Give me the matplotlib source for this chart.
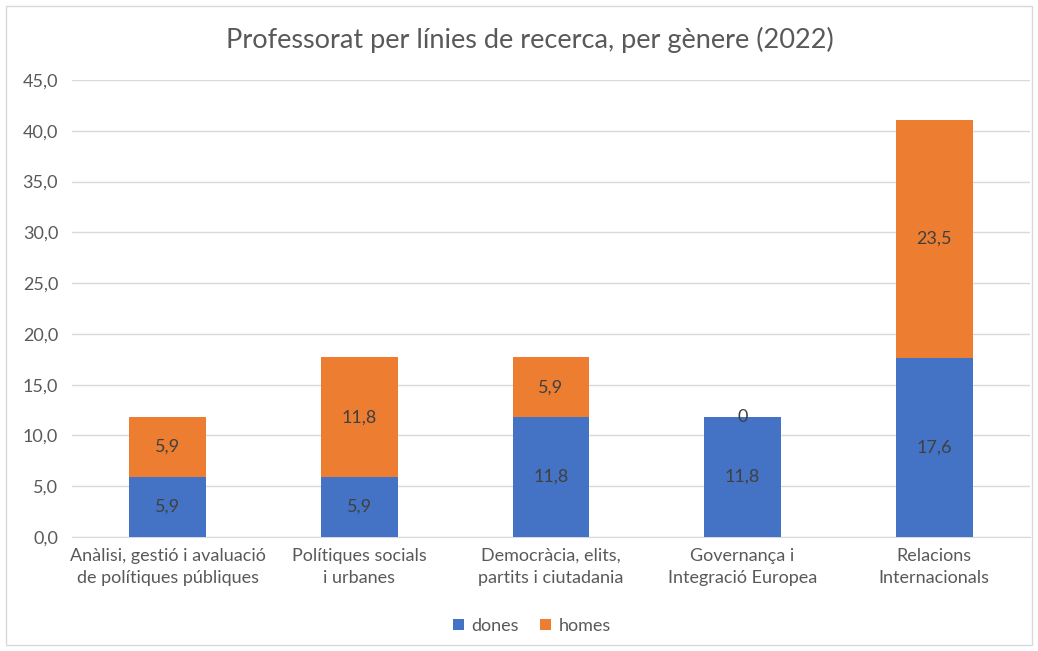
import matplotlib
matplotlib.use("Agg")
import matplotlib.pyplot as plt
from matplotlib.patches import Rectangle
import numpy as np

categories = ["Anàlisi, gestió i avaluació\nde polítiques públiques",
              "Polítiques socials\ni urbanes",
              "Democràcia, elits,\npartits i ciutadania",
              "Governança i\nIntegració Europea",
              "Relacions\nInternacionals"]
dones = [5.9, 5.9, 11.8, 11.8, 17.6]
homes = [5.9, 11.8, 5.9, 0.0, 23.5]
yticks = [0, 5, 10, 15, 20, 25, 30, 35, 40, 45]

plt.rcParams['font.family'] = ['Lato', 'DejaVu Sans']
txt = '#595959'
blue = '#4472C4'
orange = '#ED7D31'

fig = plt.figure(figsize=(10.38, 6.51), dpi=100)
ax = fig.add_axes([72/1038, 1-537/651, (1030-72)/1038, (537-80)/651])

x = np.arange(len(categories))
w = 0.40
b1 = ax.bar(x, dones, w, color=blue, label='dones', zorder=3)
b2 = ax.bar(x, homes, w, bottom=dones, color=orange, label='homes', zorder=3)

def fmt(v):
    if v == 0:
        return "0"
    return f"{v:.1f}".replace('.', ',')

for xi, d, h in zip(x, dones, homes):
    ax.text(xi, d/2, fmt(d), ha='center', va='center', fontsize=13, color='#404040', zorder=4)
    ax.text(xi, d + h/2, fmt(h), ha='center', va='center', fontsize=13, color='#404040', zorder=4)

ax.set_xlim(-0.5, len(categories)-0.5)
ax.set_ylim(0, 45)
ax.set_yticks(yticks)
ax.set_yticklabels([f"{t:.1f}".replace('.', ',') for t in yticks], fontsize=13, color=txt)
ax.set_xticks(x)
ax.set_xticklabels(categories, fontsize=13, color=txt, linespacing=1.45)
ax.tick_params(axis='both', length=0)
ax.tick_params(axis='y', pad=10)
ax.tick_params(axis='x', pad=8)
ax.grid(axis='y', color='#D9D9D9', linewidth=1, zorder=0)
for s in ['top', 'right', 'left']:
    ax.spines[s].set_visible(False)
ax.spines['bottom'].set_color('#D9D9D9')

fig.text(530/1038, 1-40/651, "Professorat per línies de recerca, per gènere (2022)",
         ha='center', va='center', fontsize=19.5, color=txt)

leg = fig.legend(handles=[b1, b2], labels=['dones', 'homes'], loc='center',
                 bbox_to_anchor=(532/1038, 1-626/651), ncol=2, frameon=False,
                 fontsize=13, handlelength=0.6, handleheight=0.6, handletextpad=0.4,
                 columnspacing=1.2, labelcolor=txt)

fig.patches.append(Rectangle((6/1038, 6/651), 1-12/1038, 1-12/651, transform=fig.transFigure,
                             fill=False, edgecolor='#D9D9D9', linewidth=1))

fig.savefig('out.png', dpi=100)
